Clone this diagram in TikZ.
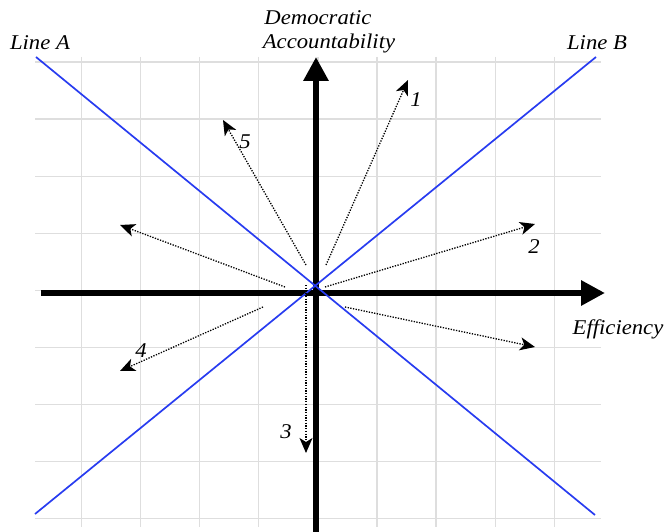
\documentclass[tikz,border=0pt]{standalone}
\usepackage{fontspec}
\setmainfont{Liberation Serif}
\newfontfamily\labfont[FakeStretch=1.08]{Liberation Serif}
\usetikzlibrary{arrows.meta}
\definecolor{lineblue}{RGB}{40,60,240}
\definecolor{gridgray}{RGB}{222,222,222}
\begin{document}
\begin{tikzpicture}[x=1pt,y=-1pt,
  gridline/.style={draw=gridgray, line width=1.3pt},
  axisline/.style={line width=6pt, -{Triangle[length=24pt,width=24pt]}},
  blueline/.style={draw=lineblue, line width=1.7pt},
  dotarrow/.style={line width=1.3pt, dash pattern=on 1.3pt off 1.4pt, -{Stealth[length=15pt,width=13pt,inset=4pt]}},
  lab/.style={font=\labfont\itshape\fontsize{21}{22}\selectfont, inner sep=0pt},
]
\useasboundingbox (0,0) rectangle (669,532);
% grid
\foreach \k in {0,...,8} {
  \draw[gridline] ({81.5+59.1*\k},57) -- ({81.5+59.1*\k},527);
  \draw[gridline] (35,{62+57.1*\k}) -- (601,{62+57.1*\k});
}
% axes
\coordinate (xs) at (41,293);
\coordinate (xe) at (605,293);
\coordinate (ys) at (316,532);
\coordinate (ye) at (316,57);
\draw[axisline] (xs) -- (xe);
\draw[axisline] (ys) -- (ye);
% blue lines
\coordinate (a1) at (36,57);
\coordinate (a2) at (595,515);
\coordinate (b1) at (596,57);
\coordinate (b2) at (35,514);
\draw[blueline] (a1) -- (a2);
\draw[blueline] (b1) -- (b2);
% dotted arrows
\coordinate (s1) at (326,265); \coordinate (e1) at (408,80);
\coordinate (s5) at (306,265); \coordinate (e5) at (223,120);
\coordinate (s6) at (285,287); \coordinate (e6) at (120,225);
\coordinate (s2) at (325,287); \coordinate (e2) at (535,224);
\coordinate (s7) at (345,307); \coordinate (e7) at (535,347);
\coordinate (s4) at (263,307); \coordinate (e4) at (120,371);
\coordinate (s3) at (306,285); \coordinate (e3) at (306,453);
\foreach \n in {1,5,6,2,7,4,3} { \draw[dotarrow] (s\n) -- (e\n); }
% labels
\node[lab] (lA) at (40,43) {Line A};
\node[lab] (lB) at (597,43) {Line B};
\node[lab] (d1) at (318,18) {Democratic};
\node[lab] (d2) at (329,43) {Accountability};
\node[lab] (ef) at (618,329) {Efficiency};
\node[lab] (n1) at (416,100) {1};
\node[lab] (n5) at (245,142) {5};
\node[lab] (n2) at (534,247) {2};
\node[lab] (n4) at (141,351) {4};
\node[lab] (n3) at (286,432) {3};
\end{tikzpicture}
\end{document}
